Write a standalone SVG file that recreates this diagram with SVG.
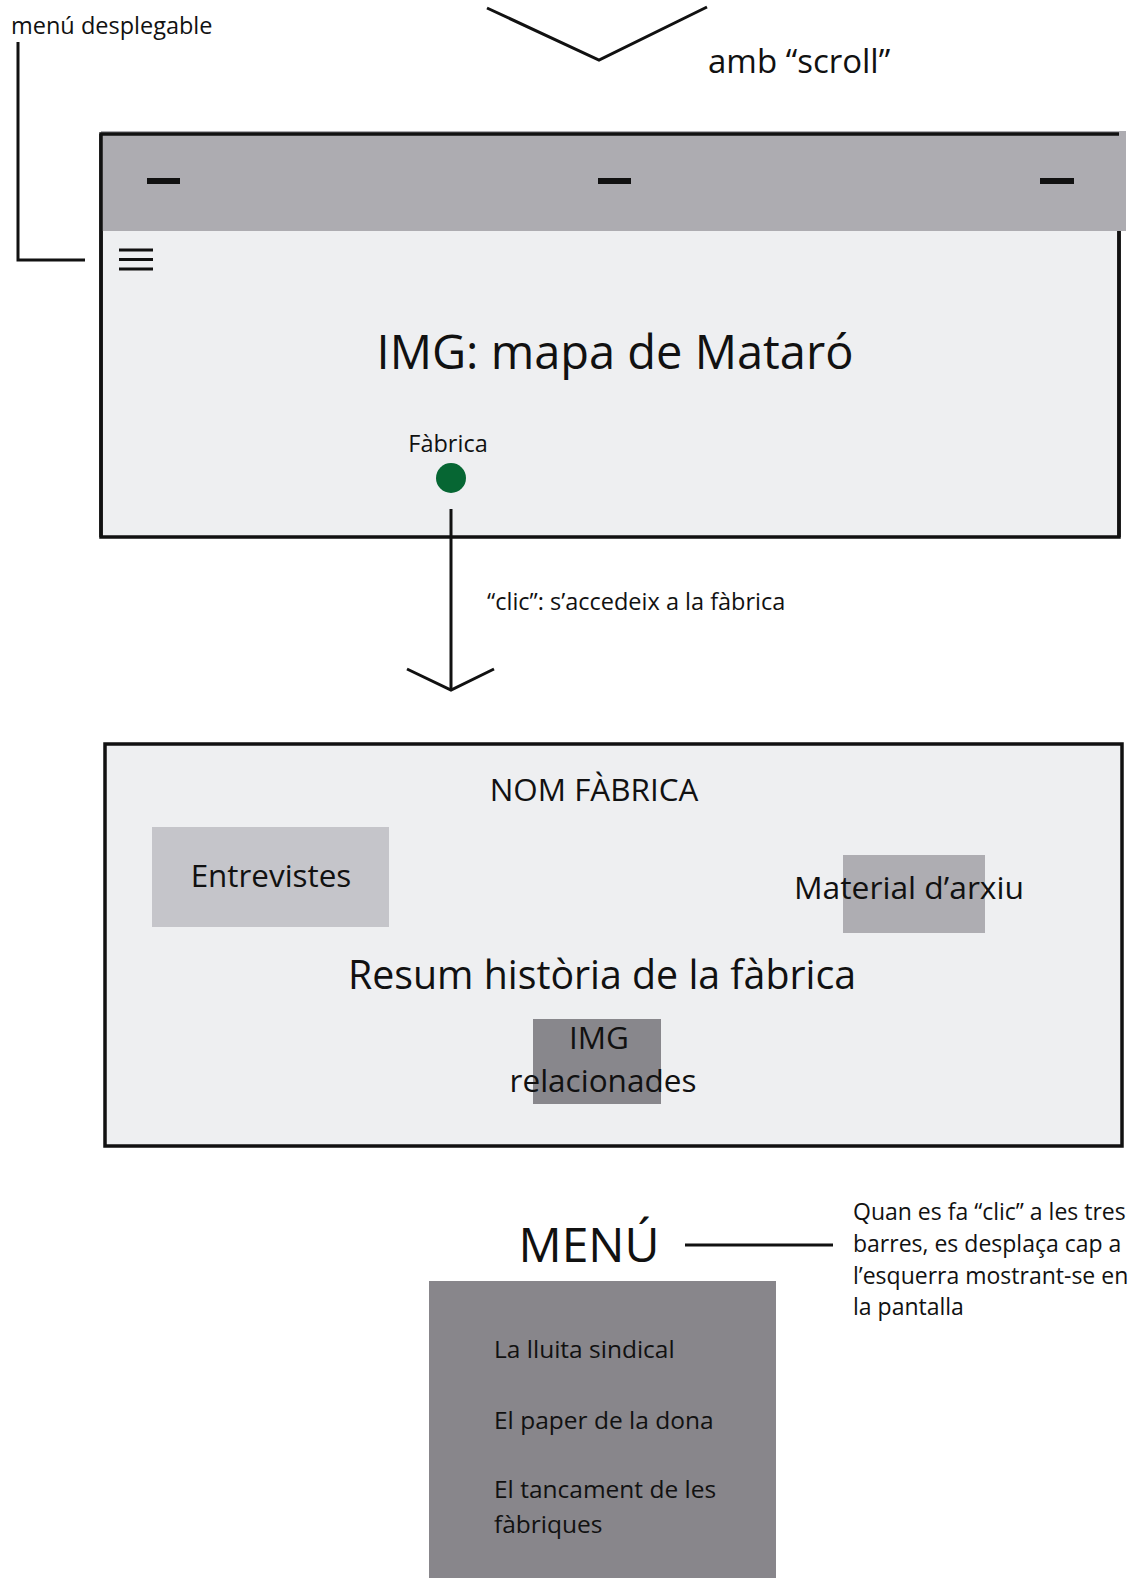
<svg xmlns="http://www.w3.org/2000/svg" width="1140" height="1578" viewBox="0 0 1140 1578">
<style>
text{font-family:"Open Sans","Noto Sans","DejaVu Sans",sans-serif;fill:#111}
.ln{stroke:#111;stroke-width:3;fill:none}
.frame{fill:#eeeff1;stroke:#111;stroke-width:3.5}
.dash{fill:#111}
</style>
<rect width="1140" height="1578" fill="#fff"/>
<g id="label-menu-desplegable"><text x="11" y="34" font-size="23.5">menú desplegable</text></g>
<g id="label-scroll"><text x="708" y="73" font-size="33">amb “scroll”</text></g>
<g id="screen-map">
<rect class="frame" x="101" y="134" width="1018" height="403"/>
<rect x="101" y="131" width="1025" height="100" fill="#adacb1"/>
<line x1="101" y1="134" x2="1119" y2="134" stroke="#111" stroke-width="3.5"/>
<line x1="1119" y1="231" x2="1119" y2="537" stroke="#111" stroke-width="3.5"/>
<line x1="101" y1="134" x2="101" y2="537" stroke="#111" stroke-width="3.5"/>
<rect class="dash" x="147" y="178" width="33" height="6"/>
<rect class="dash" x="598" y="178" width="33" height="6"/>
<rect class="dash" x="1040" y="178" width="34" height="6"/>
<g class="ln" stroke-width="4"><line x1="119" y1="250" x2="153" y2="250"/><line x1="119" y1="259.5" x2="153" y2="259.5"/><line x1="119" y1="269" x2="153" y2="269"/></g>
<text x="615" y="369" font-size="47" text-anchor="middle">IMG: mapa de Mataró</text>
<text x="448" y="452" font-size="23.5" text-anchor="middle">Fàbrica</text>
<circle cx="451" cy="478" r="15" fill="#066633"/>
</g>
<g id="label-clic"><text x="487" y="610" font-size="23.5">“clic”: s’accedeix a la fàbrica</text></g>
<g id="screen-fabrica">
<rect class="frame" x="105" y="744" width="1017" height="402"/>
<text x="594" y="801" font-size="31.4" text-anchor="middle">NOM FÀBRICA</text>
<rect x="152" y="827" width="237" height="100" fill="#c5c5ca"/>
<text x="271" y="887" font-size="31.4" text-anchor="middle">Entrevistes</text>
<rect x="843" y="855" width="142" height="78" fill="#aeadb2"/>
<text x="909" y="899" font-size="31.8" text-anchor="middle">Material d’arxiu</text>
<text x="602" y="989" font-size="39.3" text-anchor="middle">Resum història de la fàbrica</text>
<rect x="533" y="1019" width="128" height="85" fill="#88878c"/>
<text x="599" y="1049" font-size="31.5" text-anchor="middle">IMG</text>
<text x="603" y="1092" font-size="31.5" text-anchor="middle">relacionades</text>
</g>
<g id="menu">
<text x="589" y="1262" font-size="48" text-anchor="middle">MENÚ</text>
<rect x="429" y="1281" width="347" height="297" fill="#88868b"/>
<text x="494" y="1358" font-size="24.5">La lluita sindical</text>
<text x="494" y="1429" font-size="24.5">El paper de la dona</text>
<text x="494" y="1498" font-size="24.5">El tancament de les</text>
<text x="494" y="1533" font-size="24.5">fàbriques</text>
</g>
<g id="label-menu-note">
<text x="853" y="1220" font-size="23">Quan es fa “clic” a les tres</text>
<text x="853" y="1252" font-size="23">barres, es desplaça cap a</text>
<text x="853" y="1284" font-size="23">l’esquerra mostrant-se en</text>
<text x="853" y="1315" font-size="23">la pantalla</text>
</g>
<g id="connectors">
<polyline class="ln" points="487,8 599,60 707,7"/>
<polyline class="ln" points="18,42 18,260 85,260"/>
<line class="ln" x1="451" y1="509" x2="451" y2="690"/>
<polyline class="ln" points="407,669 451,690 494,669"/>
<line class="ln" x1="685" y1="1245" x2="833" y2="1245"/>
</g>
</svg>
